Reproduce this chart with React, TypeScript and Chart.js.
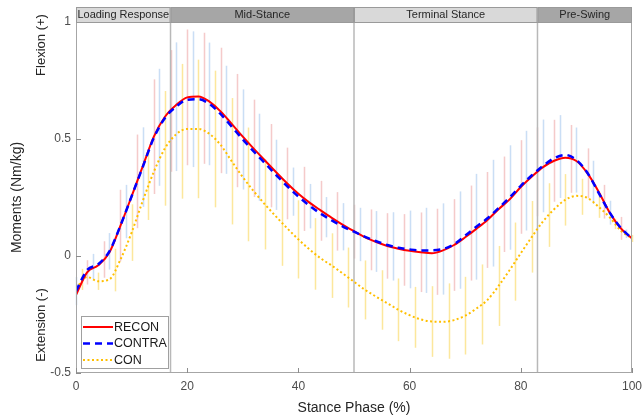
import React, { useEffect, useRef } from 'react';
import { Chart, registerables } from 'chart.js';

Chart.register(...registerables);

const xGrid = [0, 2, 4, 6, 8, 10, 12, 14, 16, 18, 20, 22, 24, 26, 28, 30, 32, 34, 36, 38, 40, 42, 44, 46, 48, 50, 52, 54, 56, 58, 60, 62, 64, 66, 68, 70, 72, 74, 76, 78, 80, 82, 84, 86, 88, 90, 92, 94, 96, 98, 100];

const reconMean = [-0.167, -0.07, -0.04, 0.015, 0.13, 0.255, 0.383, 0.51, 0.595, 0.645, 0.678, 0.682, 0.66, 0.618, 0.565, 0.51, 0.458, 0.408, 0.358, 0.31, 0.266, 0.228, 0.195, 0.163, 0.133, 0.106, 0.08, 0.06, 0.043, 0.031, 0.022, 0.016, 0.012, 0.024, 0.047, 0.08, 0.116, 0.154, 0.2, 0.242, 0.295, 0.34, 0.38, 0.407, 0.42, 0.406, 0.353, 0.275, 0.185, 0.118, 0.075];

const contraMean = [-0.15, -0.06, -0.035, 0.02, 0.13, 0.255, 0.38, 0.505, 0.59, 0.638, 0.668, 0.67, 0.65, 0.607, 0.553, 0.498, 0.446, 0.396, 0.346, 0.298, 0.254, 0.215, 0.181, 0.152, 0.126, 0.104, 0.082, 0.063, 0.047, 0.035, 0.028, 0.024, 0.024, 0.03, 0.05, 0.087, 0.125, 0.161, 0.205, 0.25, 0.3, 0.345, 0.385, 0.418, 0.432, 0.41, 0.355, 0.27, 0.185, 0.12, 0.075];

const conMean = [-0.138, -0.09, -0.108, -0.1, -0.015, 0.1, 0.235, 0.36, 0.46, 0.52, 0.543, 0.543, 0.522, 0.475, 0.405, 0.337, 0.276, 0.22, 0.168, 0.118, 0.071, 0.028, -0.01, -0.041, -0.075, -0.11, -0.145, -0.174, -0.202, -0.23, -0.253, -0.271, -0.28, -0.281, -0.274, -0.255, -0.225, -0.188, -0.128, -0.06, 0.012, 0.082, 0.148, 0.2, 0.24, 0.257, 0.248, 0.21, 0.165, 0.108, 0.075];

const reconErrX = [2, 5, 8, 11, 14, 17, 20, 23, 26, 29, 32, 35, 38, 41, 44, 47, 50, 53, 56, 59, 62, 65, 68, 71, 74, 77, 80, 83, 86, 89, 92, 95, 98];
const reconErrLow = [-0.122, -0.093, -0.023, 0.119, 0.265, 0.36, 0.388, 0.394, 0.354, 0.294, 0.252, 0.208, 0.157, 0.107, 0.065, 0.023, -0.011, -0.061, -0.097, -0.127, -0.154, -0.166, -0.149, -0.105, -0.051, 0.017, 0.095, 0.17, 0.232, 0.27, 0.246, 0.16, 0.069];
const reconErrHigh = [-0.018, 0.063, 0.283, 0.519, 0.755, 0.88, 0.968, 0.954, 0.89, 0.778, 0.668, 0.564, 0.463, 0.381, 0.321, 0.273, 0.219, 0.199, 0.183, 0.179, 0.186, 0.202, 0.243, 0.301, 0.359, 0.425, 0.495, 0.55, 0.582, 0.56, 0.46, 0.304, 0.167];

const contraErrX = [0, 3, 6, 9, 12, 15, 18, 21, 24, 27, 30, 33, 36, 39, 42, 45, 48, 51, 54, 57, 60, 63, 66, 69, 72, 75, 78, 81, 84, 87, 90, 93, 96, 99];
const contraErrLow = [-0.21, -0.099, -0.058, 0.076, 0.21, 0.3, 0.363, 0.38, 0.388, 0.351, 0.284, 0.236, 0.197, 0.172, 0.118, 0.08, 0.024, -0.022, -0.068, -0.105, -0.138, -0.158, -0.165, -0.14, -0.101, -0.045, 0.027, 0.109, 0.187, 0.248, 0.271, 0.223, 0.134, 0.077];
const contraErrHigh = [-0.09, 0.009, 0.098, 0.304, 0.55, 0.8, 0.913, 0.96, 0.912, 0.813, 0.712, 0.608, 0.497, 0.378, 0.308, 0.252, 0.226, 0.206, 0.192, 0.187, 0.194, 0.206, 0.225, 0.276, 0.351, 0.411, 0.473, 0.535, 0.583, 0.602, 0.549, 0.407, 0.236, 0.113];

const conErrX = [1, 4, 7, 10, 13, 16, 19, 22, 25, 28, 31, 34, 37, 40, 43, 46, 49, 52, 55, 58, 61, 64, 67, 70, 73, 76, 79, 82, 85, 88, 91, 94, 97, 100];
const conErrLow = [-0.145, -0.145, -0.151, -0.021, 0.154, 0.215, 0.245, 0.247, 0.208, 0.135, 0.063, 0.028, -0.042, -0.096, -0.144, -0.179, -0.22, -0.271, -0.315, -0.364, -0.392, -0.431, -0.439, -0.421, -0.378, -0.299, -0.191, -0.071, 0.039, 0.13, 0.176, 0.163, 0.115, 0.06];
const conErrHigh = [-0.055, -0.071, 0.031, 0.221, 0.446, 0.705, 0.821, 0.839, 0.792, 0.675, 0.549, 0.412, 0.328, 0.238, 0.162, 0.097, 0.036, -0.019, -0.061, -0.096, -0.132, -0.129, -0.117, -0.089, -0.036, 0.043, 0.143, 0.235, 0.311, 0.35, 0.33, 0.257, 0.159, 0.09];

const phaseStarts = [0, 17, 50, 83];
const phaseEnds = [17, 50, 83, 100];
const phaseLabels = ['Loading Response', 'Mid-Stance', 'Terminal Stance', 'Pre-Swing'];
const phaseColors = ['#d9d9d9', '#a6a6a6', '#d9d9d9', '#a6a6a6'];

const seriesLabels = ['RECON', 'CONTRA', 'CON'];
const xTicks = [0, 20, 40, 60, 80, 100];
const yTicks = [-0.5, 0, 0.5, 1];

const FONT = '"Liberation Sans", Arial, Helvetica, sans-serif';

const decorPlugin = {
  id: 'decor',
  beforeDatasetsDraw(chart: any) {
    const { ctx, chartArea, scales } = chart;
    const xs = scales.x;
    const ys = scales.y;
    ctx.save();
    ctx.lineWidth = 1.5;
    const groups = [
      { xv: contraErrX, lo: contraErrLow, hi: contraErrHigh, color: 'rgba(150,190,235,0.5)' },
      { xv: conErrX, lo: conErrLow, hi: conErrHigh, color: 'rgba(250,215,90,0.6)' },
      { xv: reconErrX, lo: reconErrLow, hi: reconErrHigh, color: 'rgba(235,150,150,0.5)' },
    ];
    groups.forEach((g) => {
      ctx.strokeStyle = g.color;
      g.xv.forEach((xv, i) => {
        const px = Math.round(xs.getPixelForValue(xv)) + 0.5;
        ctx.beginPath();
        ctx.moveTo(px, ys.getPixelForValue(g.lo[i]));
        ctx.lineTo(px, ys.getPixelForValue(g.hi[i]));
        ctx.stroke();
      });
    });
    ctx.strokeStyle = '#b8b8b8';
    ctx.lineWidth = 1.5;
    phaseStarts.slice(1).forEach((v) => {
      const px = xs.getPixelForValue(v);
      ctx.beginPath();
      ctx.moveTo(px, chartArea.top);
      ctx.lineTo(px, chartArea.bottom);
      ctx.stroke();
    });
    ctx.restore();
  },
  afterDraw(chart: any) {
    const { ctx, chartArea, scales } = chart;
    const xs = scales.x;
    const ys = scales.y;
    const { left, right, top, bottom } = chartArea;
    ctx.save();
    ctx.strokeStyle = '#a6a6a6';
    ctx.lineWidth = 1;
    ctx.strokeRect(left + 0.5, top + 0.5, right - left - 1, bottom - top - 1);
    ctx.strokeStyle = '#8c8c8c';
    xTicks.forEach((v) => {
      const px = Math.round(xs.getPixelForValue(v)) + 0.5;
      ctx.beginPath();
      ctx.moveTo(px, bottom);
      ctx.lineTo(px, bottom - 5);
      ctx.stroke();
    });
    yTicks.forEach((v) => {
      const py = Math.round(ys.getPixelForValue(v)) + 0.5;
      ctx.beginPath();
      ctx.moveTo(left, py);
      ctx.lineTo(left + 5, py);
      ctx.stroke();
    });
    const bandTop = top - 15;
    phaseStarts.forEach((s, i) => {
      const x0 = xs.getPixelForValue(s);
      const x1 = xs.getPixelForValue(phaseEnds[i]);
      ctx.fillStyle = phaseColors[i];
      ctx.fillRect(x0, bandTop, x1 - x0, top - bandTop);
      ctx.strokeStyle = '#9a9a9a';
      ctx.lineWidth = 1;
      ctx.strokeRect(x0 + 0.5, bandTop + 0.5, x1 - x0 - 1, top - bandTop);
      ctx.fillStyle = '#262626';
      ctx.font = `11px ${FONT}`;
      ctx.textAlign = 'center';
      ctx.textBaseline = 'middle';
      ctx.fillText(phaseLabels[i], (x0 + x1) / 2, (bandTop + top) / 2 + 0.5);
    });
    const lx = 81, ly = 316, lw = 87, lh = 52;
    ctx.fillStyle = '#ffffff';
    ctx.fillRect(lx, ly, lw, lh);
    ctx.strokeStyle = '#a0a0a0';
    ctx.lineWidth = 1;
    ctx.strokeRect(lx + 0.5, ly + 0.5, lw, lh);
    chart.data.datasets.forEach((ds: any, i: number) => {
      const y = ly + 11 + i * 16.5;
      ctx.save();
      ctx.strokeStyle = ds.borderColor;
      ctx.lineWidth = ds.borderWidth;
      ctx.setLineDash(ds.borderDash || []);
      ctx.beginPath();
      ctx.moveTo(lx + 2, y);
      ctx.lineTo(lx + 32, y);
      ctx.stroke();
      ctx.restore();
      ctx.fillStyle = '#1a1a1a';
      ctx.font = `12.5px ${FONT}`;
      ctx.textAlign = 'left';
      ctx.textBaseline = 'middle';
      ctx.fillText(ds.label, lx + 33, y + 0.5);
    });
    ctx.fillStyle = '#262626';
    ctx.font = `14px ${FONT}`;
    ctx.textAlign = 'center';
    ctx.textBaseline = 'middle';
    ctx.fillText('Stance Phase (%)', (left + right) / 2, 408);
    const vText = (t: string, x: number, y: number, size: number) => {
      ctx.save();
      ctx.translate(x, y);
      ctx.rotate(-Math.PI / 2);
      ctx.font = `${size}px ${FONT}`;
      ctx.fillText(t, 0, 0);
      ctx.restore();
    };
    vText('Moments (Nm/kg)', 17, (top + bottom) / 2, 14);
    vText('Flexion (+)', 41, 45, 13);
    vText('Extension (-)', 41, 325, 13);
    ctx.restore();
  },
};

export default function App() {
  const ref = useRef<HTMLCanvasElement | null>(null);
  useEffect(() => {
    document.body.style.margin = '0';
    if (!ref.current) return;
    const mk = (arr: number[]) => xGrid.map((x, i) => ({ x, y: arr[i] }));
    const chart = new Chart(ref.current, {
      type: 'line',
      data: {
        datasets: [
          {
            label: seriesLabels[0],
            data: mk(reconMean),
            borderColor: '#ff0000',
            borderWidth: 2,
            pointRadius: 0,
            cubicInterpolationMode: 'monotone',
            order: 1,
          },
          {
            label: seriesLabels[1],
            data: mk(contraMean),
            borderColor: '#0000ff',
            borderWidth: 2.5,
            borderDash: [7, 5],
            pointRadius: 0,
            cubicInterpolationMode: 'monotone',
            order: 0,
          },
          {
            label: seriesLabels[2],
            data: mk(conMean),
            borderColor: '#ffbf00',
            borderWidth: 2,
            borderDash: [2, 2.5],
            pointRadius: 0,
            cubicInterpolationMode: 'monotone',
            order: 2,
          },
        ],
      },
      options: {
        responsive: false,
        animation: false,
        events: [],
        layout: { padding: { top: 22, right: 12, left: 0, bottom: 0 } },
        scales: {
          x: {
            type: 'linear',
            min: 0,
            max: 100,
            afterFit: (s: any) => { s.height = 45; s.paddingLeft = 0; s.paddingRight = 0; },
            afterBuildTicks: (s: any) => { s.ticks = xTicks.map((v) => ({ value: v })); },
            ticks: { color: '#4d4d4d', font: { size: 12, family: FONT }, padding: 6, maxRotation: 0 },
            grid: { display: false, drawTicks: false, tickLength: 0 },
            border: { display: false },
          },
          y: {
            type: 'linear',
            min: -0.5,
            max: 1,
            afterFit: (s: any) => { s.width = 76; s.paddingTop = 0; s.paddingBottom = 0; },
            afterBuildTicks: (s: any) => { s.ticks = yTicks.map((v) => ({ value: v })); },
            ticks: {
              color: '#4d4d4d',
              font: { size: 12, family: FONT },
              padding: 5,
              callback: (v: any) => String(v),
            },
            grid: { display: false, drawTicks: false, tickLength: 0 },
            border: { display: false },
          },
        },
        plugins: { legend: { display: false }, tooltip: { enabled: false } },
      },
      plugins: [decorPlugin],
    } as any);
    return () => chart.destroy();
  }, []);
  return <canvas ref={ref} width={644} height={418} style={{ display: 'block' }} />;
}
